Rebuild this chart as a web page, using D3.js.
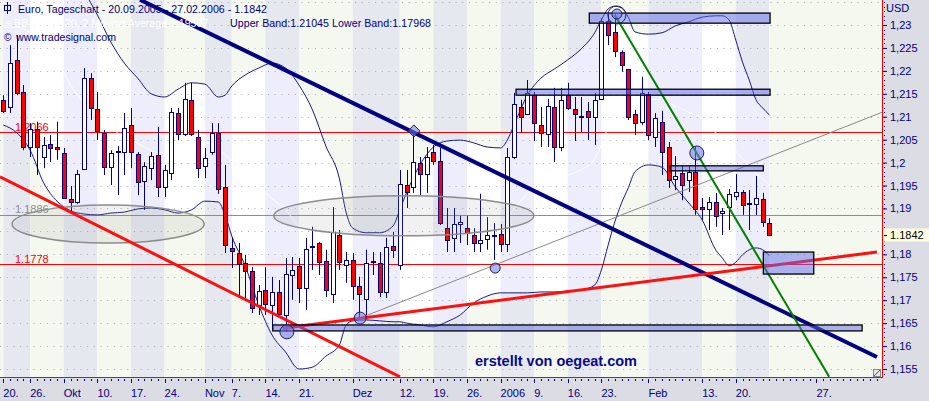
<!DOCTYPE html>
<html><head><meta charset="utf-8">
<script src="https://cdn.jsdelivr.net/npm/d3@7"></script>
<style>
html,body{margin:0;padding:0;background:#fff;overflow:hidden}
svg{display:block;font-family:"Liberation Sans",Arial,sans-serif}
</style></head>
<body><svg id="c" width="929" height="401"></svg>
<script>
// ---------------- DATA ----------------
const candleOpen=[1.2137,1.2121,1.2224,1.2154,1.2034,1.2073,1.2012,1.2041,1.2034,1.2021,
1.1921,1.1914,1.1986,1.2184,1.2117,1.2065,1.1990,1.2025,1.2023,1.2082,
1.2019,1.1960,1.1988,1.2017,1.1947,1.1977,1.2108,1.2062,1.2137,1.2056,
1.1993,1.2023,1.2065,1.1947,1.1814,1.1803,1.1781,1.1764,1.1690,1.1722,
1.1690,1.1718,1.1668,1.1755,1.1775,1.1727,1.1816,1.1825,1.1786,1.1714,
1.1842,1.1777,1.1788,1.1731,1.1703,1.1783,1.1781,1.1718,1.1818,1.1777,
1.1951,1.1947,1.1999,1.1975,1.2023,1.2004,1.1857,1.1836,1.1866,1.1857,
1.1842,1.1825,1.1833,1.1842,1.1844,1.1823,1.2012,1.2121,1.2106,1.2147,
1.2082,1.2062,1.2121,1.2034,1.2147,1.2117,1.2102,1.2113,1.2099,1.2139,
1.2309,1.2285,1.2241,1.2204,1.2106,1.2089,1.2150,1.2056,1.2089,1.2034,
1.1964,1.1977,1.1962,1.1980,1.1903,1.1899,1.1914,1.1890,1.1903,1.1927,
1.1936,1.1912,1.1910,1.1921,1.1868];
const candleHigh=[1.2147,1.2256,1.2278,1.2169,1.2086,1.2089,1.2056,1.2060,1.2089,1.2032,
1.1949,1.1984,1.2206,1.2195,1.2154,1.2071,1.2027,1.2036,1.2108,1.2119,
1.2023,1.2001,1.2023,1.2078,1.1995,1.2119,1.2119,1.2174,1.2174,1.2071,
1.2032,1.2086,1.2086,1.1995,1.1836,1.1825,1.1799,1.1772,1.1733,1.1772,
1.1751,1.1744,1.1792,1.1794,1.1792,1.1836,1.1860,1.1827,1.1810,1.1903,
1.1853,1.1805,1.1803,1.1751,1.1810,1.1805,1.1805,1.1836,1.1849,1.1984,
1.1984,1.2065,1.2012,1.2034,1.2038,1.2032,1.1901,1.1901,1.1884,1.1884,
1.1857,1.1932,1.1881,1.1868,1.1866,1.2032,1.2152,1.2137,1.2180,1.2154,
1.2121,1.2139,1.2163,1.2163,1.2174,1.2143,1.2143,1.2132,1.2152,1.2315,
1.2324,1.2326,1.2245,1.2204,1.2115,1.2187,1.2154,1.2108,1.2113,1.2045,
1.2014,1.1993,1.1993,1.2034,1.1923,1.1925,1.1934,1.1901,1.1942,1.1975,
1.1940,1.1940,1.1971,1.1934,1.1879];
const candleLow=[1.2108,1.2108,1.2147,1.2027,1.2012,1.1973,1.1988,1.2001,1.2006,1.1921,
1.1892,1.1910,1.1984,1.2093,1.2049,1.1973,1.1951,1.1929,1.1973,1.1988,
1.1929,1.1897,1.1962,1.1925,1.1925,1.1962,1.2049,1.2058,1.2058,1.1966,
1.1966,1.2017,1.1932,1.1803,1.1770,1.1705,1.1701,1.1672,1.1668,1.1668,
1.1635,1.1666,1.1631,1.1701,1.1694,1.1679,1.1766,1.1755,1.1707,1.1694,
1.1766,1.1738,1.1701,1.1661,1.1661,1.1755,1.1707,1.1705,1.1792,1.1766,
1.1901,1.1934,1.1929,1.1934,1.1995,1.1864,1.1805,1.1805,1.1825,1.1820,
1.1805,1.1805,1.1810,1.1788,1.1805,1.1805,1.2008,1.2065,1.2104,1.2047,
1.2034,1.2034,1.2001,1.2025,1.2115,1.2047,1.2067,1.2049,1.2038,1.2137,
1.2256,1.2230,1.2198,1.2093,1.2060,1.2082,1.2049,1.2034,1.1973,1.1945,
1.1940,1.1918,1.1936,1.1886,1.1875,1.1853,1.1860,1.1842,1.1853,1.1918,
1.1886,1.1853,1.1886,1.1860,1.1842];
const candleClose=[1.2113,1.2217,1.2152,1.2034,1.2073,1.2034,1.2038,1.2032,1.2030,1.1923,
1.1914,1.1975,1.2184,1.2119,1.2069,1.1990,1.2021,1.2023,1.2075,1.2023,
1.1958,1.1993,1.2014,1.1947,1.1984,1.2110,1.2062,1.2139,1.2062,1.1988,
1.2010,1.2065,1.1942,1.1820,1.1807,1.1779,1.1764,1.1683,1.1720,1.1692,
1.1718,1.1670,1.1757,1.1766,1.1727,1.1812,1.1818,1.1783,1.1722,1.1849,
1.1783,1.1788,1.1731,1.1714,1.1781,1.1786,1.1718,1.1816,1.1810,1.1953,
1.1936,1.2001,1.1975,1.2012,1.2004,1.1868,1.1831,1.1866,1.1871,1.1847,
1.1825,1.1831,1.1842,1.1840,1.1823,1.2012,1.2128,1.2099,1.2152,1.2086,
1.2065,1.2123,1.2034,1.2137,1.2119,1.2106,1.2099,1.2099,1.2137,1.2309,
1.2278,1.2243,1.2213,1.2099,1.2086,1.2152,1.2060,1.2097,1.2023,1.1962,
1.1971,1.1951,1.1980,1.1899,1.1899,1.1914,1.1884,1.1895,1.1932,1.1936,
1.1908,1.1910,1.1923,1.1871,1.1842];

// Bollinger bands (sampled at trading-day indices)
const bandIdx=[0,2,4,6,8,10,12,14,16,18,20,22,24,26,28,30,32,33,34,36,38,40,42,44,46,48,50,51,52,54,56,58,59,60,62,64,66,68,70,72,74,75,76,78,80,82,84,86,88,89,90,91,92,93,94,96,98,100,102,104,106,107,108,109,110,111,112,113,114];
const upperBand=[1.2507,1.2525,1.2538,1.2546,1.2529,1.2442,1.2376,1.2322,1.2263,1.2217,
1.2184,1.2150,1.2143,1.2160,1.2174,1.2171,1.2143,1.2147,1.2167,1.2191,
1.2206,1.2217,1.2206,1.2169,1.2115,1.2036,1.1966,1.1892,1.1857,1.1847,
1.1847,1.1862,1.1897,1.1934,1.1995,1.2034,1.2047,1.2049,1.2043,1.2034,
1.2032,1.2049,1.2082,1.2147,1.2184,1.2204,1.2224,1.2248,1.2283,1.2311,
1.2335,1.2341,1.2337,1.2317,1.2285,1.2280,1.2283,1.2298,1.2307,1.2317,
1.2320,1.2320,1.2311,1.2267,1.2219,1.2180,1.2137,1.2119,1.2104];
const lowerBand=[1.2082,1.2065,1.2027,1.1956,1.1916,1.1895,1.1888,1.1886,1.1890,1.1892,
1.1899,1.1901,1.1897,1.1890,1.1897,1.1916,1.1914,1.1886,1.1840,1.1775,
1.1690,1.1624,1.1587,1.1550,1.1554,1.1578,1.1602,1.1646,1.1655,1.1657,
1.1655,1.1653,1.1653,1.1650,1.1646,1.1642,1.1653,1.1668,1.1694,1.1709,
1.1716,1.1716,1.1716,1.1716,1.1718,1.1718,1.1720,1.1722,1.1733,1.1766,
1.1820,1.1871,1.1912,1.1945,1.1980,1.1995,1.1990,1.1947,1.1912,1.1875,
1.1810,1.1792,1.1775,1.1783,1.1799,1.1810,1.1814,1.1810,1.1797];
const middleBand=[1.2295,1.2295,1.2283,1.2251,1.2223,1.2169,1.2132,1.2104,1.2077,1.2055,
1.2042,1.2026,1.2020,1.2025,1.2036,1.2044,1.2029,1.2017,1.2004,1.1983,
1.1948,1.1921,1.1897,1.1860,1.1835,1.1807,1.1784,1.1769,1.1756,1.1752,
1.1751,1.1758,1.1775,1.1792,1.1821,1.1838,1.1850,1.1859,1.1869,1.1872,
1.1874,1.1883,1.1899,1.1932,1.1951,1.1961,1.1972,1.1985,1.2008,1.2039,
1.2078,1.2106,1.2125,1.2131,1.2133,1.2138,1.2137,1.2123,1.2110,1.2096,
1.2065,1.2056,1.2043,1.2025,1.2009,1.1995,1.1976,1.1965,1.1951];

// axis
const yTickValues=[1.155,1.16,1.165,1.17,1.175,1.18,1.185,1.19,1.195,1.2,1.205,1.21,1.215,1.22,1.225,1.23];
const weekStartIdx=[0,4,9,14,19,24,30,34,39,44,52,59,64,69,74,79,84,89,96,104,109,114];
const xTickIdx=[0,4,9,14,19,24,30,34,39,44,52,59,64,69,74,79,84,89,96,104,109,121];
const xTickLabels=["20.","26.","Okt","10.","17.","24.","Nov","7.","14.","21.","Dez","12.","19.","26.","2006","9.","16.","23.","Feb","13.","20.","27."];

// horizontal levels
const levelValues=[1.2066,1.1886,1.1778];
const levelLabels=["1.2066","1.1886","1.1778"];

// drawing tools (anchors in [trading-day index, price])
const navyTrend=[[20.34,1.2355],[130.0,1.1576]];
const redTrendDown=[[-0.49,1.1969],[59.03,1.1533]];
const redTrendUp=[[41.6,1.1639],[130.0,1.1805]];
const greenTrend=[[91.0,1.2322],[122.9,1.1533]];
const grayTrend=[[53.08,1.1661],[130.8,1.2110]];
// zone boxes: [idxFrom, idxTo, priceTop, priceBottom]
const zoneStart=[87.2,76.3,99.2,40.1,113.1];
const zoneEnd=[114.1,114.1,113.1,127.8,120.6];
const zoneTop=[1.2326,1.2160,1.1993,1.1646,1.1805];
const zoneBottom=[1.2304,1.2147,1.1982,1.1633,1.1757];
// markers
const markerIdx=[42.2,53.1,73.2,61.1,91.3,103.2];
const markerPrice=[1.1631,1.1661,1.1770,1.2069,1.2324,1.2021];
// ellipses: center idx, center price, half-width (days), half-height (price)
const ellCx=[15.6,59.6], ellCy=[1.1866,1.1884], ellRx=[14.3,19.35], ellRy=[0.00414,0.00436];

// ---------------- CHART ----------------
const W=929,H=401,PR=882,PB=377;
const svg=d3.select("#c");
const x=d3.scaleLinear().domain([0,114]).range([3.3,769.4]);
const y=d3.scaleLinear().domain([1.155,1.23]).range([369,25]);
const defs=svg.append("defs");
defs.append("clipPath").attr("id","plot").append("rect").attr("x",0).attr("y",0).attr("width",PR).attr("height",PB);

const bandPts=bandIdx.map((d,i)=>({i:d,u:upperBand[i],l:lowerBand[i],m:middleBand[i]}));
const bandArea=d3.area().x(d=>x(d.i)).y0(d=>y(d.l)).y1(d=>y(d.u)).curve(d3.curveMonotoneX);
defs.append("clipPath").attr("id","band").append("path").attr("d",bandArea(bandPts));

const g=svg.append("g").attr("clip-path","url(#plot)");

// stripes
const bounds=[-Infinity,...weekStartIdx,Infinity];
const stripes=[];
for(let k=0;k<bounds.length-1;k++){
  const x0=bounds[k]===-Infinity?0:x(bounds[k]);
  const x1=bounds[k+1]===Infinity?PR:x(bounds[k+1]);
  stripes.push({x0,x1,odd:(k%2===0)});
}
g.append("g").selectAll("rect").data(stripes).join("rect")
 .attr("x",d=>d.x0).attr("y",0).attr("width",d=>d.x1-d.x0).attr("height",PB)
 .attr("fill",d=>d.odd?"#f5f8ee":"#e5e8ef");
g.append("g").attr("clip-path","url(#band)").selectAll("rect").data(stripes).join("rect")
 .attr("x",d=>d.x0).attr("y",0).attr("width",d=>d.x1-d.x0).attr("height",PB)
 .attr("fill",d=>d.odd?"#ffffff":"#ededfb");

// gridlines
g.append("g").selectAll("line").data(yTickValues.concat([1.235])).join("line")
 .attr("x1",0).attr("x2",PR).attr("y1",d=>Math.round(y(d))+0.5).attr("y2",d=>Math.round(y(d))+0.5)
 .attr("stroke","#a9abb8").attr("stroke-dasharray","1,5.7");

// level lines
const levelColor=["#ff0000","#8c8c8c","#ff0000"];
g.append("g").selectAll("line").data(levelValues).join("line")
 .attr("x1",0).attr("x2",PR).attr("y1",d=>Math.round(y(d))+0.5).attr("y2",d=>Math.round(y(d))+0.5)
 .attr("stroke",(d,i)=>levelColor[i]).attr("stroke-width",1);
g.append("g").selectAll("text").data(levelValues).join("text")
 .attr("x",15).attr("y",d=>y(d)-1.5).attr("font-size",11)
 .attr("fill",(d,i)=>levelColor[i]).text((d,i)=>levelLabels[i]);

// band lines
const lineU=d3.line().x(d=>x(d.i)).y(d=>y(d.u)).curve(d3.curveMonotoneX);
const lineL=d3.line().x(d=>x(d.i)).y(d=>y(d.l)).curve(d3.curveMonotoneX);
const lineM=d3.line().x(d=>x(d.i)).y(d=>y(d.m)).curve(d3.curveMonotoneX);
g.append("path").attr("d",lineU(bandPts)).attr("fill","none").attr("stroke","#1a1a80").attr("stroke-width",1);
g.append("path").attr("d",lineL(bandPts)).attr("fill","none").attr("stroke","#1a1a80").attr("stroke-width",1);
g.append("path").attr("d",lineM(bandPts)).attr("fill","none").attr("stroke","#ffffff").attr("stroke-width",1);

// candles
const candles=candleOpen.map((o,i)=>({i,o,h:candleHigh[i],l:candleLow[i],c:candleClose[i]}));
const cg=g.append("g");
cg.selectAll("line").data(candles).join("line")
 .attr("x1",d=>Math.round(x(d.i))+0.5).attr("x2",d=>Math.round(x(d.i))+0.5)
 .attr("y1",d=>y(d.h)).attr("y2",d=>y(d.l)).attr("stroke","#000080");
cg.selectAll("rect").data(candles).join("rect")
 .attr("x",d=>Math.round(x(d.i))-1.5).attr("width",4)
 .attr("y",d=>Math.round(y(Math.max(d.o,d.c)))+0.5)
 .attr("height",d=>Math.max(1,Math.round(y(Math.min(d.o,d.c)))-Math.round(y(Math.max(d.o,d.c)))))
 .attr("fill",d=>d.c<d.o?"#ff0000":"#ffffff").attr("stroke","#000080").attr("stroke-width",1);

// ellipses
g.append("g").selectAll("ellipse").data(ellCx).join("ellipse")
 .attr("cx",(d,i)=>x(d)).attr("cy",(d,i)=>y(ellCy[i]))
 .attr("rx",(d,i)=>x(ellRx[i])-x(0)).attr("ry",(d,i)=>y(1.2)-y(1.2+ellRy[i]))
 .attr("fill","rgba(150,150,150,0.13)").attr("stroke","#8c8c8c").attr("stroke-width",1.5);

// trendlines
const tl=(pts,col,w)=>g.append("line").attr("x1",x(pts[0][0])).attr("y1",y(pts[0][1]))
 .attr("x2",x(pts[1][0])).attr("y2",y(pts[1][1])).attr("stroke",col).attr("stroke-width",w);
tl(grayTrend,"#8a8a8a",1);
tl(navyTrend,"#000080",4);
tl(redTrendDown,"#ff1010",3);
tl(redTrendUp,"#ff1010",3);
tl(greenTrend,"#008000",2);

// zones
g.append("g").selectAll("rect").data(zoneStart).join("rect")
 .attr("x",d=>x(d)).attr("width",(d,i)=>x(zoneEnd[i])-x(d))
 .attr("y",(d,i)=>y(zoneTop[i])).attr("height",(d,i)=>y(zoneBottom[i])-y(zoneTop[i]))
 .attr("fill","rgba(95,105,235,0.5)").attr("stroke","#000000").attr("stroke-width",1.3);

// markers
const mk=g.append("g");
const mr=[7,6,5,5,5,7];
markerIdx.forEach((d,i)=>{
  const cx=x(d),cy=y(markerPrice[i]);
  if(i===3){
    mk.append("path").attr("d",`M${cx},${cy-6}L${cx+6},${cy}L${cx},${cy+6}L${cx-6},${cy}Z`)
      .attr("fill","rgba(110,120,240,0.55)").attr("stroke","#202040").attr("stroke-width",1);
  } else {
    if(i===4) mk.append("circle").attr("cx",cx).attr("cy",cy+1).attr("r",9).attr("fill","none").attr("stroke","#202060").attr("stroke-width",1);
    mk.append("circle").attr("cx",cx).attr("cy",cy).attr("r",mr[i])
      .attr("fill","rgba(110,120,240,0.55)").attr("stroke","#202040").attr("stroke-width",1);
  }
});

// watermark text
g.append("text").attr("x",475).attr("y",366).attr("font-size",14.5).attr("font-weight","bold")
 .attr("fill","#0a0a8c").text("erstellt von oegeat.com");

// header texts
const hdr=svg.append("g").attr("fill","#000080").attr("font-size",10.6);
hdr.append("rect").attr("x",4.5).attr("y",5.5).attr("width",6).attr("height",5).attr("fill","none").attr("stroke","#000080");
hdr.append("line").attr("x1",7.5).attr("x2",7.5).attr("y1",2).attr("y2",14).attr("stroke","#000080");
hdr.append("text").attr("x",18).attr("y",13).attr("textLength",249).text("Euro, Tageschart - 20.09.2005 - 27.02.2006 - 1.1842");
hdr.append("text").attr("x",5).attr("y",27).attr("fill","#ffffff").text("\u2261 BB-Close, 20, 2 Moving Average:1.19507");
hdr.append("text").attr("x",230).attr("y",27).attr("textLength",201).text("Upper Band:1.21045 Lower Band:1.17968");
hdr.append("text").attr("x",4).attr("y",41).attr("font-size",10).text("\u00a9");
hdr.append("text").attr("x",16).attr("y",41).attr("textLength",100).text("www.tradesignal.com");

// axis panels
svg.append("rect").attr("x",PR).attr("y",0).attr("width",W-PR).attr("height",H).attr("fill","#dcdce4");
svg.append("rect").attr("x",0).attr("y",PB).attr("width",PR).attr("height",H-PB).attr("fill","#dcdce4");
svg.append("line").attr("x1",PR+0.5).attr("x2",PR+0.5).attr("y1",0).attr("y2",PB+1).attr("stroke","#ff0000");
svg.append("line").attr("x1",0).attr("x2",PR+1).attr("y1",PB+0.5).attr("y2",PB+0.5).attr("stroke","#ff0000");

// right axis
const lastP=candleClose[candleClose.length-1];
const ya=svg.append("g").attr("transform",`translate(${PR+1},0)`)
 .call(d3.axisRight(y).tickValues(yTickValues).tickSize(4).tickPadding(3)
   .tickFormat(v=>d3.format(".3~f")(v).replace(".",",")));
ya.select(".domain").remove();
ya.selectAll("line").attr("stroke","#000080");
ya.selectAll("text").attr("fill","#000080").attr("font-size",11).attr("font-family","Liberation Sans, Arial, sans-serif");
// the tick label hidden behind the last-price box in the original
ya.selectAll(".tick").filter(d=>Math.abs(y(d)-y(lastP))<11).select("text").remove();
// minor ticks
const minor=d3.range(1.154,1.2355,0.001);
svg.append("g").selectAll("rect").data(minor).join("rect")
 .attr("x",PR+2).attr("y",d=>Math.round(y(d))).attr("width",1).attr("height",1).attr("fill","#000080");
svg.append("text").attr("x",886).attr("y",12).attr("font-size",11).attr("fill","#000080").text("USD");
// last price box
svg.append("rect").attr("x",PR+1).attr("y",y(lastP)-6.5).attr("width",W-PR-1).attr("height",13).attr("fill","#ffffe0");
svg.append("line").attr("x1",PR+2).attr("x2",PR+5).attr("y1",Math.round(y(lastP))+0.5).attr("y2",Math.round(y(lastP))+0.5).attr("stroke","#000000");
svg.append("text").attr("x",890).attr("y",y(lastP)+4).attr("font-size",11).attr("fill","#000000").text(d3.format(".4f")(lastP));

// bottom axis
const xa=svg.append("g");
xa.selectAll("line.d").data(d3.range(0,131)).join("line").attr("class","d")
 .attr("x1",d=>Math.round(x(d))+0.5).attr("x2",d=>Math.round(x(d))+0.5)
 .attr("y1",PB+2).attr("y2",PB+4).attr("stroke","#000080");
xa.selectAll("line.m").data(xTickIdx).join("line").attr("class","m")
 .attr("x1",d=>Math.round(x(d))+0.5).attr("x2",d=>Math.round(x(d))+0.5)
 .attr("y1",PB+2).attr("y2",PB+6).attr("stroke","#000080");
xa.selectAll("text").data(xTickIdx).join("text")
 .attr("x",d=>x(d)).attr("y",397).attr("font-size",11).attr("fill","#000080")
 .text((d,i)=>xTickLabels[i]);

// resize grip
svg.append("rect").attr("x",873.5).attr("y",369.5).attr("width",7).attr("height",7).attr("fill","#e8e8e8").attr("stroke","#888");
svg.append("line").attr("x1",874).attr("y1",376).attr("x2",880).attr("y2",370).attr("stroke","#555");
</script></body></html>
